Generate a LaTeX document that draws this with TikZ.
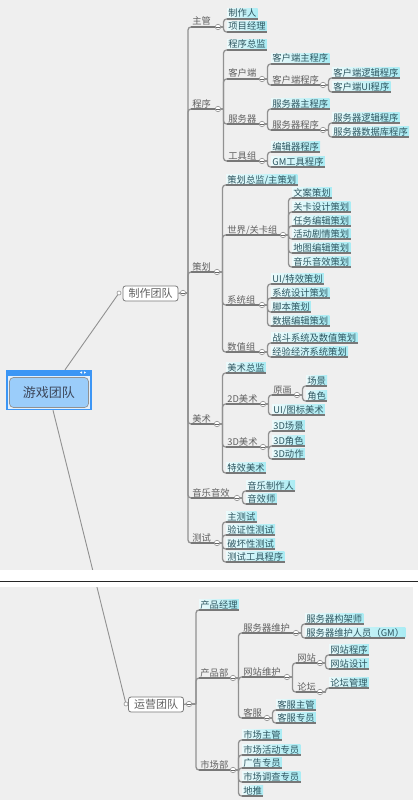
\documentclass[tikz,border=0pt]{standalone}
\usepackage{fontspec}
\newfontfamily\cjk{Noto Sans CJK SC}
\definecolor{bgc}{RGB}{239,239,239}
\definecolor{lnc}{RGB}{145,145,145}
\definecolor{ulc}{RGB}{120,120,120}
\definecolor{midc}{RGB}{95,95,95}
\definecolor{leafc}{RGB}{45,85,95}
\definecolor{leafl}{RGB}{236,250,251}
\definecolor{leafr}{RGB}{170,236,244}
\definecolor{selc}{RGB}{60,150,245}
\definecolor{gamein}{RGB}{228,240,252}
\definecolor{gamef}{RGB}{155,205,250}
\definecolor{gamet}{RGB}{60,70,90}
\tikzset{
  base/.style={anchor=south west, inner xsep=1.2pt, inner ysep=0.6pt, text height=8pt, text depth=1.2pt, font=\fontsize{9.3}{10}\cjk},
  leaf/.style={base, text=leafc, left color=leafl, right color=leafr},
  mid/.style={base, text=midc},
  ul/.style={draw=ulc, line width=1.3pt},
  conn/.style={draw=lnc, line width=1.3pt, rounded corners=3pt},
  knob/.style={circle, draw=lnc, fill=white, line width=0.6pt, minimum size=5.5pt, inner sep=0pt,
    path picture={\draw[lnc!70!black, line width=0.5pt] ([xshift=-1.6pt]path picture bounding box.center) -- ([xshift=1.6pt]path picture bounding box.center);}},
  hole/.style={circle, draw=lnc, fill=white, line width=0.6pt, minimum size=4pt, inner sep=0pt},
  team/.style={draw=ulc, fill=white, rounded corners=2.5pt, line width=0.8pt, minimum width=55pt, minimum height=15pt, inner sep=0pt, text=midc, font=\fontsize{11}{12}\cjk},
}
\newcommand\Mid[4]{\node[mid] (#1) at (#2,#3) {#4};}
\newcommand\Leaf[4]{\node[leaf] (#1) at (#2,#3) {#4}; \draw[ul] (#1.south west) -- (#1.south east);}
\newcommand\Br[5]{%
  \node[knob] (#2) at (#3,#4) {};
  \draw[ul] (#1.south west) -- (#2.west);
  \draw[conn] (#2.east) -- ++(2.5,0) coordinate (#2s);
  \foreach \cn in {#5} {\draw[conn] (#2s) |- (\cn.south west);}
}
\begin{document}
\begin{tikzpicture}[x=1pt,y=-1pt]
\useasboundingbox (0,0) rectangle (418,800);
\fill[white] (0,0) rectangle (418,800);
\fill[bgc] (0,0) rectangle (418,570);
\fill[bgc] (0,587) rectangle (413,800);

% central node
\node[fill=selc, minimum width=86pt, minimum height=40pt, inner sep=0pt] (game) at (49,390) {};
\fill[gamein] (8,376) rectangle (90,408.5);
\node[draw=lnc, fill=gamef, rounded corners=4pt, line width=0.7pt, minimum width=79pt, minimum height=30pt, inner sep=0pt, font=\fontsize{13}{14}\cjk, text=gamet] (gamet) at (49,392.5) {游戏团队};
\fill[white] (80,372.5) -- (82,371.3) -- (82,373.7) -- cycle;
\fill[white] (84,371.3) -- (86,372.5) -- (84,373.7) -- cycle;

% team nodes
\node[team] (make) at (150.5,293.5) {制作团队};
\node[hole] (makeL) at (119,293) {};
\node[knob] (makeK) at (183,293) {};
\node[team] (ops) at (156,704.5) {运营团队};
\node[hole] (opsL) at (126,704) {};
\node[knob] (opsK) at (189,704) {};

\draw[conn, rounded corners=0pt, line width=0.9pt] ([xshift=16pt]game.north) -- (makeL);
\draw[conn, rounded corners=0pt, line width=0.9pt] ([xshift=4pt]game.south) -- (opsL);
\fill[white] (0,570) rectangle (418,587);
\draw[line width=1.6pt, black!85] (0,581.5) -- (418,581.5);

% ---- 制作团队 ----
\Mid{zg}{191}{27}{主管}
\Leaf{zzr}{227}{19}{制作人}
\Leaf{xmjl}{227}{32}{项目经理}
\Br{zg}{zgK}{218}{27}{zzr,xmjl}

\Mid{cx}{191}{109}{程序}
\Leaf{cxzj}{227}{50}{程序总监}
\Mid{khd}{227}{79}{客户端}
\Leaf{khdz}{271}{64}{客户端主程序}
\Mid{khdc}{271}{85}{客户端程序}
\Leaf{khdl}{332}{78}{客户端逻辑程序}
\Leaf{khdui}{332}{92}{客户端UI程序}
\Mid{fwq}{227}{124}{服务器}
\Leaf{fwqz}{271}{109}{服务器主程序}
\Mid{fwqc}{271}{130}{服务器程序}
\Leaf{fwql}{332}{123}{服务器逻辑程序}
\Leaf{fwqs}{332}{137}{服务器数据库程序}
\Mid{gjz}{227}{161}{工具组}
\Leaf{bjq}{271}{152}{编辑器程序}
\Leaf{gmgj}{271}{167}{GM工具程序}
\Br{cx}{cxK}{218}{109}{cxzj,khd,fwq,gjz}
\Br{khd}{khdK}{262}{79}{khdz,khdc}
\Br{khdc}{khdcK}{323}{85}{khdl,khdui}
\Br{fwq}{fwqK}{262}{124}{fwqz,fwqc}
\Br{fwqc}{fwqcK}{323}{130}{fwql,fwqs}
\Br{gjz}{gjzK}{262}{161}{bjq,gmgj}

\Mid{ch}{191}{272}{策划}
\Leaf{chzj}{226}{185}{策划总监/主策划}
\Mid{sj}{226}{235}{世界/关卡组}
\Leaf{wa}{292}{198}{文案策划}
\Leaf{gk}{292}{212}{关卡设计策划}
\Leaf{rw}{292}{226}{任务编辑策划}
\Leaf{hd}{292}{239}{活动剧情策划}
\Leaf{dt}{292}{253}{地图编辑策划}
\Leaf{yy}{292}{267}{音乐音效策划}
\Mid{xt}{226}{305}{系统组}
\Leaf{uitx}{271}{284}{UI/特效策划}
\Leaf{xtsj}{271}{298}{系统设计策划}
\Leaf{jb}{271}{312}{脚本策划}
\Leaf{sjbj}{271}{326}{数据编辑策划}
\Mid{sz}{226}{352}{数值组}
\Leaf{zd}{271}{343}{战斗系统及数值策划}
\Leaf{jy}{271}{357}{经验经济系统策划}
\Br{ch}{chK}{217}{272}{chzj,sj,xt,sz}
\Br{sj}{sjK}{283}{235}{wa,gk,rw,hd,dt,yy}
\Br{xt}{xtK}{262}{305}{uitx,xtsj,jb,sjbj}
\Br{sz}{szK}{262}{352}{zd,jy}

\Mid{ms}{191}{424}{美术}
\Leaf{mszj}{226}{373}{美术总监}
\Mid{mdb}{226}{404}{2D美术}
\Mid{yh}{272}{395}{原画}
\Leaf{cj}{306}{386}{场景}
\Leaf{js}{306}{401}{角色}
\Leaf{uitb}{272}{415}{UI/图标美术}
\Mid{mdc}{226}{447}{3D美术}
\Leaf{cjs}{272}{431}{3D场景}
\Leaf{jss}{272}{446}{3D角色}
\Leaf{dzs}{272}{459}{3D动作}
\Leaf{txms}{226}{473}{特效美术}
\Br{ms}{msK}{217}{424}{mszj,mdb,mdc,txms}
\Br{mdb}{mdbK}{263}{404}{yh,uitb}
\Br{yh}{yhK}{297}{395}{cj,js}
\Br{mdc}{mdcK}{263}{447}{cjs,jss,dzs}

\Mid{yyyx}{191}{498}{音乐音效}
\Leaf{yyzz}{246}{491}{音乐制作人}
\Leaf{yxs}{246}{504}{音效师}
\Br{yyyx}{yyyxK}{237}{498}{yyzz,yxs}

\Mid{cs}{191}{543}{测试}
\Leaf{zcs}{226}{522}{主测试}
\Leaf{yzx}{226}{535}{验证性测试}
\Leaf{phx}{226}{549}{破坏性测试}
\Leaf{csgj}{226}{562}{测试工具程序}
\Br{cs}{csK}{217}{543}{zcs,yzx,phx,csgj}

\draw[conn] (make.east) -- (makeK.west);
\draw[conn] (makeK.east) -- (188,293) coordinate (makeS);
\foreach \cn in {zg,cx,ch,ms,yyyx,cs} {\draw[conn] (makeS) |- (\cn.south west);}

% ---- 运营团队 ----
\Leaf{cpjl}{199}{610}{产品经理}
\Mid{cpb}{199}{678}{产品部}
\Mid{fwwh}{242}{633}{服务器维护}
\Leaf{fwjg}{305}{624}{服务器构架师}
\Leaf{fwry}{305}{638}{服务器维护人员（GM）}
\Mid{wzwh}{242}{677}{网站维护}
\Mid{wz}{296}{663}{网站}
\Leaf{wzcx}{329}{655}{网站程序}
\Leaf{wzsj}{329}{669}{网站设计}
\Mid{lt}{296}{692}{论坛}
\Leaf{ltgl}{329}{688}{论坛管理}
\Mid{kf}{242}{718}{客服}
\Leaf{kfzg}{276}{710}{客服主管}
\Leaf{kfzy}{276}{723}{客服专员}
\Mid{scb}{199}{770}{市场部}
\Leaf{sczg}{242}{740}{市场主管}
\Leaf{schd}{242}{755}{市场活动专员}
\Leaf{gg}{242}{768}{广告专员}
\Leaf{scdc}{242}{782}{市场调查专员}
\Leaf{dtu}{242}{796}{地推}
\Br{cpb}{cpbK}{233}{678}{fwwh,wzwh,kf}
\Br{fwwh}{fwwhK}{296}{633}{fwjg,fwry}
\Br{wzwh}{wzwhK}{287}{677}{wz,lt}
\Br{wz}{wzK}{320}{663}{wzcx,wzsj}
\Br{lt}{ltK}{320}{692}{ltgl}
\Br{kf}{kfK}{267}{718}{kfzg,kfzy}
\Br{scb}{scbK}{233}{770}{sczg,schd,gg,scdc,dtu}

\draw[conn] (ops.east) -- (opsK.west);
\draw[conn] (opsK.east) -- (196,704) coordinate (opsS);
\foreach \cn in {cpjl,cpb,scb} {\draw[conn] (opsS) |- (\cn.south west);}
\end{tikzpicture}
\end{document}
